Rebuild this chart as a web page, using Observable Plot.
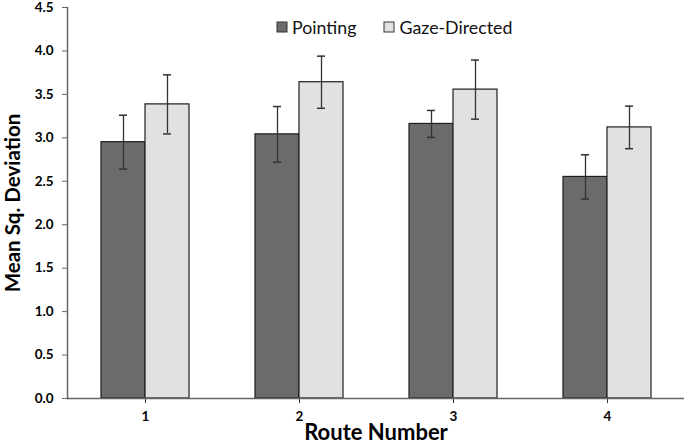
<!DOCTYPE html>
<html><head><meta charset="utf-8">
<script src="https://cdn.jsdelivr.net/npm/d3@7"></script>
<script src="https://cdn.jsdelivr.net/npm/@observablehq/plot@0.6"></script>
<style>
body{margin:0;background:#fff}
#chart{position:relative;width:685px;height:444px;overflow:hidden}
#legend{position:absolute;left:277px;top:10px}
#legend .lg-swatch{margin-right:28px !important;font-family:Lato,sans-serif;font-size:17.8px;color:#111}
#legend .lg-swatch svg{overflow:visible;margin-right:5px !important}
#legend .lg-swatch svg rect{stroke:#333;stroke-width:1}
#chart g[aria-label="x-axis label"] text{font-size:22px;font-weight:bold}
#chart g[aria-label="y-axis label"] text{font-size:20.5px;font-weight:bold}
</style></head><body><div id="chart"></div><script>
const routes = ["1", "2", "3", "4"];
const conditions = ["Pointing", "Gaze-Directed"];
const pointingMean = [2.95, 3.04, 3.16, 2.55];
const pointingErr = [0.31, 0.32, 0.155, 0.255];
const gazeMean = [3.385, 3.64, 3.555, 3.12];
const gazeErr = [0.34, 0.30, 0.34, 0.245];
const yTicks = [0, 0.5, 1.0, 1.5, 2.0, 2.5, 3.0, 3.5, 4.0, 4.5];
const colors = ["#6b6b6b", "#e1e1e1"];

const pointing = routes.map((r, i) => ({route: r, condition: conditions[0], mean: pointingMean[i], lo: pointingMean[i] - pointingErr[i], hi: pointingMean[i] + pointingErr[i]}));
const gaze = routes.map((r, i) => ({route: r, condition: conditions[1], mean: gazeMean[i], lo: gazeMean[i] - gazeErr[i], hi: gazeMean[i] + gazeErr[i]}));

// half of each route band belongs to one condition
const half = 44, cap = 4, off = 22;
const barStyle = {x: "route", y: "mean", fill: "condition", stroke: "#1e1e1e", strokeWidth: 1.2};
const errStyle = {stroke: "#333", strokeWidth: 1.3};
const capStyle = {stroke: "#333", strokeWidth: 1.5};

const plot = Plot.plot({
  width: 685, height: 444,
  marginLeft: 67, marginRight: 1, marginTop: 7, marginBottom: 46,
  style: {fontFamily: "Lato, sans-serif", fontSize: "13px", color: "#000", background: "#fff"},
  x: {domain: routes, paddingInner: 0.43, paddingOuter: 0.215, axis: null},
  y: {domain: [0, 4.5], axis: null},
  color: {domain: conditions, range: colors},
  marks: [
    Plot.barY(pointing, {...barStyle, insetRight: half}),
    Plot.barY(gaze, {...barStyle, insetLeft: half}),
    Plot.ruleX(pointing, {x: "route", y1: "lo", y2: "hi", dx: -off, ...errStyle}),
    Plot.ruleX(gaze, {x: "route", y1: "lo", y2: "hi", dx: off, ...errStyle}),
    Plot.tickY(pointing, {x: "route", y: "hi", insetLeft: half - off - cap, insetRight: half + off - cap, ...capStyle}),
    Plot.tickY(pointing, {x: "route", y: "lo", insetLeft: half - off - cap, insetRight: half + off - cap, ...capStyle}),
    Plot.tickY(gaze, {x: "route", y: "hi", insetLeft: half + off - cap, insetRight: half - off - cap, ...capStyle}),
    Plot.tickY(gaze, {x: "route", y: "lo", insetLeft: half + off - cap, insetRight: half - off - cap, ...capStyle}),
    Plot.axisY({ticks: yTicks, tickFormat: d => d.toFixed(1), tickSize: 5, tickPadding: 9, fontWeight: "bold", fontSize: 13.5, stroke: "#666",
      label: "Mean Sq. Deviation", labelAnchor: "center", labelOffset: 62, labelArrow: "none"}),
    Plot.axisX({anchor: "bottom", tickSize: 5, tickPadding: 8, fontWeight: "bold", fontSize: 13.5, stroke: "#333",
      label: "Route Number", labelAnchor: "center", labelOffset: 41, labelArrow: "none"}),
    Plot.frame({anchor: "left", stroke: "#666", strokeWidth: 1.5}),
    Plot.ruleY([0], {stroke: "#666", strokeWidth: 1.5})
  ]
});

const legend = Plot.legend({
  color: {domain: conditions, range: colors},
  className: "lg", swatchSize: 10
});
legend.id = "legend";
const chart = document.getElementById("chart");
chart.appendChild(plot);
chart.appendChild(legend);
</script></body></html>
